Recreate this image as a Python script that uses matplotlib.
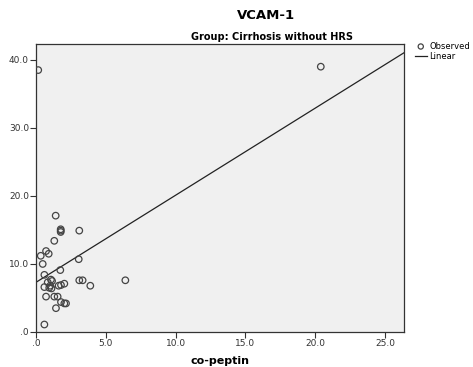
import matplotlib.pyplot as plt
import numpy as np

# co-peptin (x) vs VCAM-1 (y)
copeptin = [0.16, 20.4, 1.41, 1.77, 1.77, 1.77, 3.10, 1.31, 0.72, 0.91,
            0.34, 0.48, 3.06, 1.74, 0.60, 1.07, 1.15, 0.84, 0.60, 0.95,
            1.02, 1.11, 1.62, 1.79, 2.03, 3.10, 3.34, 6.40, 3.89, 0.72,
            1.31, 1.55, 1.79, 2.03, 2.15, 1.43, 0.60]
vcam = [38.5, 39.0, 17.1, 15.1, 14.9, 14.7, 14.9, 13.4, 11.9, 11.5,
        11.2, 10.0, 10.7, 9.1, 8.4, 7.7, 7.5, 7.3, 6.6, 6.5,
        6.8, 6.4, 6.8, 6.9, 7.1, 7.6, 7.6, 7.6, 6.8, 5.2,
        5.2, 5.2, 4.4, 4.2, 4.2, 3.5, 1.1]
xticks = [0, 5, 10, 15, 20, 25]
xticklabels = [".0", "5.0", "10.0", "15.0", "20.0", "25.0"]
yticks = [0, 10, 20, 30, 40]
yticklabels = [".0", "10.0", "20.0", "30.0", "40.0"]

fig = plt.figure(figsize=(4.73, 3.67), dpi=100)
ax = fig.add_axes([0.0761, 0.0954, 0.778, 0.785])
ax.set_facecolor("#f0f0f0")

ax.scatter(copeptin, vcam, s=22, facecolors="none", edgecolors="#444444",
           linewidths=0.9, label="Observed", zorder=3)

slope, intercept = np.polyfit(copeptin, vcam, 1)
xs = np.array([0, 26.36])
ax.plot(xs, intercept + slope * xs, color="#222222", lw=0.9, label="Linear")

ax.set_xlim(0, 26.36)
ax.set_ylim(0, 42.35)
ax.set_xticks(xticks)
ax.set_xticklabels(xticklabels)
ax.set_yticks(yticks)
ax.set_yticklabels(yticklabels)
ax.tick_params(labelsize=6.5, length=4, width=0.8, pad=1, colors="#333333")
for s in ax.spines.values():
    s.set_color("#333333")
    s.set_linewidth(0.9)

ax.set_xlabel("co-peptin", fontsize=8, fontweight="bold", labelpad=6)
fig.text(0.563, 0.957, "VCAM-1", ha="center", va="center",
         fontsize=9.5, fontweight="bold")
fig.text(0.575, 0.898, "Group: Cirrhosis without HRS", ha="center",
         va="center", fontsize=7, fontweight="bold")

leg = ax.legend(loc="upper left", bbox_to_anchor=(1.015, 1.025), frameon=False,
                fontsize=6, handlelength=1.5, handletextpad=0.3,
                labelspacing=0.1, borderaxespad=0.2, markerscale=0.8)

fig.savefig("out.png", dpi=100)
